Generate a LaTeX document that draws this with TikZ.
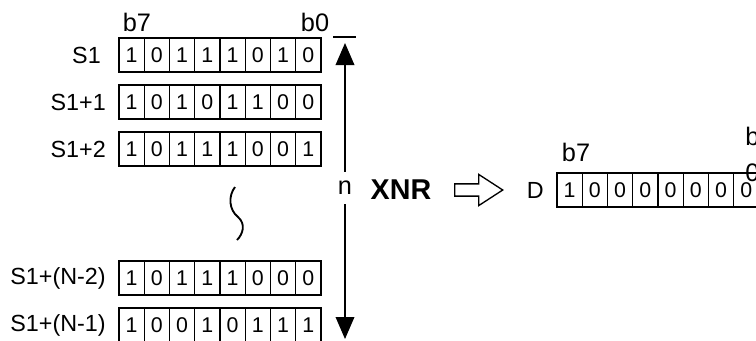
\documentclass[tikz,border=0pt]{standalone}
\usepackage{fontspec}
\setmainfont{Liberation Sans}
\usetikzlibrary{arrows.meta,positioning,shapes.arrows}
\tikzset{
  bit/.style={draw=black, line width=1.1pt, minimum width=18.94pt, minimum height=25.5pt, inner sep=0pt, font=\fontsize{16}{18}\selectfont},
  rowlabel/.style={anchor=east, inner sep=0pt, font=\fontsize{17.5}{20}\selectfont},
  bitlabel/.style={inner sep=0pt, font=\fontsize{19}{22}\selectfont},
  arrow/.style={-{Triangle[length=16.5pt,width=14pt]}, line width=1pt},
  hollow/.style={draw=black, line width=1pt, single arrow, single arrow head extend=7.1pt, single arrow tip angle=66, minimum height=36pt, minimum width=22.5pt, inner xsep=0pt, inner ysep=4.1pt}
}
\begin{document}
\begin{tikzpicture}[x=0.75pt, y=-0.75pt]
\useasboundingbox (0,0) rectangle (756,340);
\clip (0,0) rectangle (756,340);
% source words
\foreach \r/\lbl/\lx/\yc/\bits in {1/S1/101/55/{1,0,1,1,1,0,1,0},
    2/S1+1/106/102/{1,0,1,0,1,1,0,0},
    3/S1+2/106/149/{1,0,1,1,1,0,0,1},
    4/S1+(N-2)/106/278/{1,0,1,1,1,0,0,0},
    5/S1+(N-1)/106/325/{1,0,0,1,0,1,1,1}}{
  \node[rowlabel] (lbl\r) at (\lx,\yc) {\lbl};
  \foreach \b [count=\i] in \bits
    \node[bit] (s\r-\i) at ({119+25.25*(\i-0.5)},\yc) {\b};
}
\node[bitlabel] (b7s) at (137,22) {b7};
\node[bitlabel] (b0s) at (315,22) {b0};
\draw[line width=1.4pt] (235,187) .. controls (228,196) and (229,210) .. (238,217)
  .. controls (246,224) and (243,234) .. (237,240);
% word count n
\coordinate (ntop) at (345,43);
\coordinate (nbot) at (345,339);
\node[fill=white, inner sep=1pt, minimum height=24pt, font=\fontsize{19}{22}\selectfont] (nlbl) at (345,188) {n};
\draw[line width=1pt] (333,37) -- (356,37);
\draw[arrow] (nlbl) -- (ntop);
\draw[arrow] (nlbl) -- (nbot);
\node[font=\fontsize{21.5}{24}\selectfont\bfseries] (xnr) at (401,190) {XNR};
\node[hollow] (conv) at (474,190) {};
% result
\node[rowlabel] (dlbl) at (544,190) {D};
\foreach \b [count=\i] in {1,0,0,0,0,0,0,0}
  \node[bit] (d-\i) at ({557+25.25*(\i-0.5)},190) {\b};
\node[bitlabel] (b7d) at (576,152) {b7};
\node[bitlabel, anchor=north west, align=left, font=\fontsize{19}{27}\selectfont] (b0d) at (745,127) {b\\0};
\end{tikzpicture}
\end{document}
